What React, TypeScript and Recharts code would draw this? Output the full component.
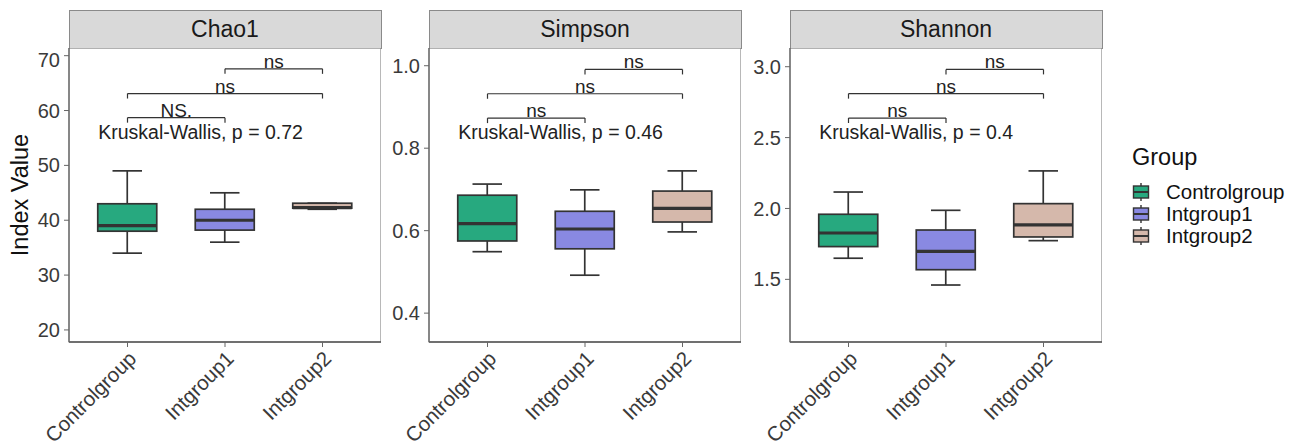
import React from 'react';
import { ComposedChart, Bar, XAxis, YAxis, ReferenceLine, ReferenceArea, ReferenceDot } from 'recharts';

// ---------- data ----------
const groups = ['Controlgroup', 'Intgroup1', 'Intgroup2'];
const groupPositions = [1, 2, 3];
const groupColors = ['#27A97F', '#8989E2', '#D5B8AB'];

const panelTitles = ['Chao1', 'Simpson', 'Shannon'];

const chao1Min = [34.0, 36.0, 42.0];
const chao1Q1 = [38.0, 38.2, 42.2];
const chao1Median = [39.0, 40.0, 42.3];
const chao1Q3 = [43.0, 42.0, 43.1];
const chao1Max = [49.0, 45.0, 43.1];

const simpsonMin = [0.549, 0.492, 0.597];
const simpsonQ1 = [0.575, 0.556, 0.621];
const simpsonMedian = [0.617, 0.604, 0.654];
const simpsonQ3 = [0.686, 0.647, 0.696];
const simpsonMax = [0.713, 0.699, 0.745];

const shannonMin = [1.649, 1.46, 1.773];
const shannonQ1 = [1.731, 1.568, 1.799];
const shannonMedian = [1.827, 1.698, 1.884];
const shannonQ3 = [1.959, 1.848, 2.034];
const shannonMax = [2.116, 1.987, 2.265];

const yDomains = [[17.8, 71.4], [0.33, 1.043], [1.058, 3.132]];
const yTicks = [[20, 30, 40, 50, 60, 70], [0.4, 0.6, 0.8, 1.0], [1.5, 2.0, 2.5, 3.0]];
const yTickDecimals = [0, 1, 1];

const comparisonPairs = [[1, 2], [1, 3], [2, 3]];
const comparisonLabels = [['NS.', 'ns', 'ns'], ['ns', 'ns', 'ns'], ['ns', 'ns', 'ns']];
const bracketY = [[58.7, 63.1, 67.6], [0.873, 0.932, 0.991], [2.638, 2.81, 2.981]];

const kruskalP = ['0.72', '0.46', '0.4'];
const kruskalX = 0.7;
const kruskalY = [56.1, 0.839, 2.54];

const legendTitle = 'Group';
const yAxisTitle = 'Index Value';

// ---------- layout / style ----------
const FONT = '"Liberation Sans", Arial, Helvetica, sans-serif';
const panelLefts = [69, 429, 790];
const panelWidth = 312;
const panelTop = 48;
const panelHeight = 294;
const stripTop = 10;
const xAxisHeight = 106;
const yAxisWidths = [69, 48, 48];
const xDomain = [0.4, 3.6];
const axisTextColor = '#3a3a3a';
const borderColor = '#8a8a8a';
const lineColor = '#333333';

const buildRows = (mins: number[], q1s: number[], meds: number[], q3s: number[], maxs: number[]) =>
  groups.map((g, i) => ({
    pos: groupPositions[i],
    group: g,
    range: [q1s[i], q3s[i]],
    min: mins[i],
    q1: q1s[i],
    median: meds[i],
    q3: q3s[i],
    max: maxs[i],
    color: groupColors[i],
  }));

const panelRows = [
  buildRows(chao1Min, chao1Q1, chao1Median, chao1Q3, chao1Max),
  buildRows(simpsonMin, simpsonQ1, simpsonMedian, simpsonQ3, simpsonMax),
  buildRows(shannonMin, shannonQ1, shannonMedian, shannonQ3, shannonMax),
];

const BoxShape = (props: any) => {
  const { x, y, width, height, payload } = props;
  const top = Math.min(y, y + height);
  const h = Math.abs(height);
  const { q1, q3, median, min, max, color } = payload;
  const k = h / (q3 - q1);
  const py = (v: number) => top + (q3 - v) * k;
  const cx = x + width / 2;
  const cap = width / 4;
  const sw = 1.7;
  return (
    <g>
      <line x1={cx} x2={cx} y1={py(max)} y2={top} stroke={lineColor} strokeWidth={sw} />
      <line x1={cx} x2={cx} y1={top + h} y2={py(min)} stroke={lineColor} strokeWidth={sw} />
      <line x1={cx - cap} x2={cx + cap} y1={py(max)} y2={py(max)} stroke={lineColor} strokeWidth={sw} />
      <line x1={cx - cap} x2={cx + cap} y1={py(min)} y2={py(min)} stroke={lineColor} strokeWidth={sw} />
      <rect x={x} y={top} width={width} height={h} fill={color} stroke={lineColor} strokeWidth={sw} />
      <line x1={x} x2={x + width} y1={py(median)} y2={py(median)} stroke={lineColor} strokeWidth={3.2} />
    </g>
  );
};

const XTick = (props: any) => {
  const { x, y, payload } = props;
  const idx = groupPositions.indexOf(payload.value);
  const ax = x + 10;
  const ay = y + 11;
  return (
    <text
      x={ax}
      y={ay}
      transform={`rotate(-45 ${ax} ${ay})`}
      textAnchor="end"
      fontSize={20.5}
      fontFamily={FONT}
      fill={axisTextColor}
    >
      {groups[idx]}
    </text>
  );
};

const YTitle = (props: any) => {
  const vb = props.viewBox || {};
  const tx = vb.x + 28;
  const ty = vb.y + vb.height / 2;
  return (
    <text x={tx} y={ty} transform={`rotate(-90 ${tx} ${ty})`} textAnchor="middle" fontSize={23.5} fontFamily={FONT} fill="#111">
      {yAxisTitle}
    </text>
  );
};

const Panel = ({ i }: { i: number }) => {
  const domain = yDomains[i];
  const yw = yAxisWidths[i];
  const tip = 0.017 * (domain[1] - domain[0]);
  const left = panelLefts[i] - yw;
  return (
    <div style={{ position: 'absolute', left, top: panelTop }}>
      <ComposedChart
        width={yw + panelWidth}
        height={panelHeight + xAxisHeight}
        data={panelRows[i]}
        margin={{ top: 0, right: 0, bottom: 0, left: 0 }}
      >
        <XAxis
          dataKey="pos"
          type="number"
          domain={xDomain}
          ticks={groupPositions}
          allowDataOverflow
          height={xAxisHeight}
          tick={<XTick />}
          tickSize={5}
          tickLine={{ stroke: '#666' }}
          axisLine={{ stroke: '#555', strokeWidth: 1.3 }}
          interval={0}
        />
        <YAxis
          type="number"
          domain={domain}
          ticks={yTicks[i]}
          allowDataOverflow
          width={yw}
          tickSize={5}
          tickMargin={4}
          tickLine={{ stroke: '#666' }}
          axisLine={{ stroke: '#666', strokeWidth: 1.2 }}
          tick={{ fontSize: 20, fill: axisTextColor, fontFamily: FONT }}
          tickFormatter={(v: number) => v.toFixed(yTickDecimals[i])}
          label={i === 0 ? { content: <YTitle /> } : undefined}
        />
        <ReferenceArea
          x1={xDomain[0]}
          x2={xDomain[1]}
          y1={domain[0]}
          y2={domain[1]}
          fill="none"
          fillOpacity={0}
          stroke={borderColor}
          strokeWidth={1.2}
          ifOverflow="visible"
        />
        <Bar dataKey="range" barSize={59} shape={<BoxShape />} isAnimationActive={false} />
        {comparisonPairs.map(([a, b], k) => {
          const by = bracketY[i][k];
          return (
            <React.Fragment key={`br${k}`}>
              <ReferenceLine
                segment={[{ x: a, y: by }, { x: b, y: by }]}
                stroke={lineColor}
                strokeWidth={1.2}
                ifOverflow="visible"
                label={{ value: comparisonLabels[i][k], position: 'top', offset: 1, fill: '#222', fontSize: 19, fontFamily: FONT }}
              />
              <ReferenceLine segment={[{ x: a, y: by }, { x: a, y: by - tip }]} stroke={lineColor} strokeWidth={1.2} ifOverflow="visible" />
              <ReferenceLine segment={[{ x: b, y: by }, { x: b, y: by - tip }]} stroke={lineColor} strokeWidth={1.2} ifOverflow="visible" />
            </React.Fragment>
          );
        })}
        <ReferenceDot
          x={kruskalX}
          y={kruskalY[i]}
          r={0}
          fill="none"
          stroke="none"
          ifOverflow="visible"
          label={{ value: `Kruskal-Wallis, p = ${kruskalP[i]}`, position: 'right', offset: 0, fill: '#222', fontSize: 19.5, fontFamily: FONT }}
        />
      </ComposedChart>
    </div>
  );
};

const Strip = ({ i }: { i: number }) => (
  <div
    style={{
      position: 'absolute',
      left: panelLefts[i] - 0.5,
      top: stripTop,
      width: panelWidth + 1,
      height: panelTop - stripTop + 0.5,
      boxSizing: 'border-box',
      background: '#d9d9d9',
      border: `1.2px solid ${borderColor}`,
      borderBottom: 'none',
      display: 'flex',
      alignItems: 'center',
      justifyContent: 'center',
      fontFamily: FONT,
      fontSize: 23,
      color: '#1a1a1a',
    }}
  >
    {panelTitles[i]}
  </div>
);

const LegendIcon = ({ color }: { color: string }) => (
  <svg width={18} height={20} style={{ display: 'block' }}>
    <line x1={9} x2={9} y1={1} y2={19} stroke={lineColor} strokeWidth={1.4} />
    <rect x={1.5} y={4} width={15} height={12} fill={color} stroke={lineColor} strokeWidth={1.4} />
    <line x1={1.5} x2={16.5} y1={10} y2={10} stroke={lineColor} strokeWidth={2} />
  </svg>
);

const GroupLegend = () => (
  <div style={{ position: 'absolute', left: 1132, top: 142, fontFamily: FONT }}>
    <div style={{ fontSize: 23.5, color: '#111', height: 32, lineHeight: '30px' }}>{legendTitle}</div>
    <div style={{ marginTop: 7 }}>
      {groups.map((g, i) => (
        <div key={g} style={{ display: 'flex', alignItems: 'center', height: 22 }}>
          <LegendIcon color={groupColors[i]} />
          <span style={{ marginLeft: 16, fontSize: 20.5, color: '#111' }}>{g}</span>
        </div>
      ))}
    </div>
  </div>
);

export default function App() {
  return (
    <div style={{ position: 'absolute', left: 0, top: 0, width: 1302, height: 448, background: '#fff', overflow: 'hidden' }}>
      {[0, 1, 2].map((i) => (
        <Strip key={`s${i}`} i={i} />
      ))}
      {[0, 1, 2].map((i) => (
        <Panel key={`p${i}`} i={i} />
      ))}
      <GroupLegend />
    </div>
  );
}
